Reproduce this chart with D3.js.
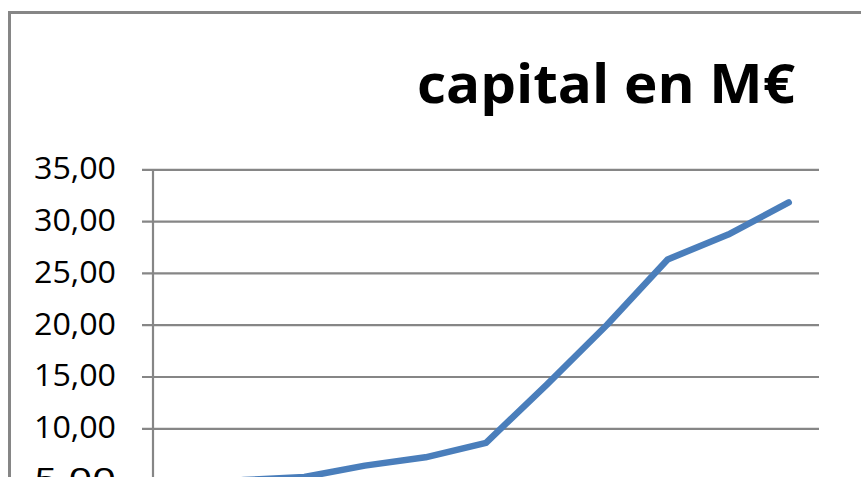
<!DOCTYPE html>
<html>
<head>
<meta charset="utf-8" />
<title>capital en M€</title>
<style type="text/css">
body { margin:0; overflow:hidden; background:#fff; }
</style>
<script src="https://d3js.org/d3.v7.min.js"></script>
</head>
<body>
<div id="chart-container"></div>
<script>

// data (category labels are cut off below the frame)
var categories = ["1", "2", "3", "4", "5", "6", "7", "8", "9", "10", "11"];
var capital = [4.4, 5.0, 5.3, 6.4, 7.2, 8.6, 14.2, 20.0, 26.3, 28.7, 31.8];
var yTicks = [0, 5, 10, 15, 20, 25, 30, 35];
var title = "capital en M€";

var W = 861, H = 600;
var plot = {left: 153, right: 819, top: 169.3, bottom: 531.9};

var svg = d3.select("#chart-container")
  .append("svg")
    .attr("width", W)
    .attr("height", H);

// chart frame (goes past the window on the right and bottom)
svg.append("rect")
    .attr("x", 9.5).attr("y", 12.5)
    .attr("width", 900).attr("height", 700)
    .attr("fill", "#fff")
    .attr("stroke", "#868686")
    .attr("stroke-width", 3);

var x = d3.scalePoint()
    .domain(categories)
    .range([plot.left, plot.right])
    .padding(0.5);

var y = d3.scaleLinear()
    .domain([0, 35])
    .range([plot.bottom, plot.top]);

// gridlines + little ticks on the left
var grid = svg.append("g")
    .attr("transform", "translate(" + (plot.left - 11) + ",0)")
    .call(d3.axisRight(y).tickValues(yTicks).tickSize(plot.right - plot.left + 11).tickFormat(""));
grid.select(".domain").remove();
grid.selectAll("line")
    .attr("stroke", "#868686")
    .attr("stroke-width", 2.2);

// labels
var fmt = function(d) { return d3.format(".2f")(d).replace(".", ","); };
var yAxis = svg.append("g")
    .attr("transform", "translate(" + plot.left + ",0)")
    .call(d3.axisLeft(y).tickValues(yTicks).tickSize(0).tickPadding(37).tickFormat(fmt));
yAxis.select(".domain").remove();
yAxis.selectAll("text")
    .attr("fill", "#000")
    .attr("font-family", "'Open Sans', sans-serif")
    .attr("font-size", 31)
    .attr("dy", "0.3em")
    .attr("textLength", 82)
    .attr("lengthAdjust", "spacingAndGlyphs");

// vertical axis line
svg.append("line")
    .attr("x1", plot.left).attr("x2", plot.left)
    .attr("y1", y(35)).attr("y2", y(0))
    .attr("stroke", "#868686")
    .attr("stroke-width", 2.2);

// the series
var line = d3.line()
    .x(function(d, i) { return x(categories[i]); })
    .y(function(d) { return y(d); });

svg.append("path")
    .datum(capital)
    .attr("d", line)
    .attr("fill", "none")
    .attr("stroke", "#4a7ebb")
    .attr("stroke-width", 6.5)
    .attr("stroke-linejoin", "round")
    .attr("stroke-linecap", "round");

// title
svg.append("text")
    .attr("x", 417)
    .attr("y", 103)
    .attr("font-family", "'Open Sans', sans-serif")
    .attr("font-weight", "bold")
    .attr("font-size", 53)
    .attr("fill", "#000")
    .attr("textLength", 378)
    .attr("lengthAdjust", "spacingAndGlyphs")
    .text(title);

</script>
</body>
</html>
